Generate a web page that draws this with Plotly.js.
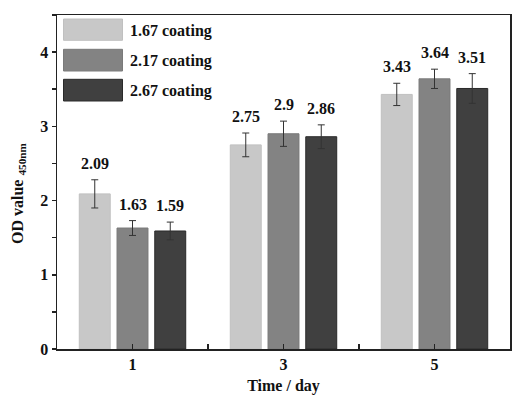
<!DOCTYPE html>
<html>
<head>
<meta charset="utf-8">
<script src="https://cdn.plot.ly/plotly-3.0.1.min.js"></script>
<style>
  html, body { margin: 0; padding: 0; background: #ffffff; }
  #chart { width: 524px; height: 402px; }
</style>
</head>
<body>
<div id="chart"></div>
<script>
// ---- data ----
const days = [1, 3, 5];
const seriesNames = ['1.67 coating', '2.17 coating', '2.67 coating'];
const od167 = [2.09, 2.75, 3.43];
const od217 = [1.63, 2.90, 3.64];
const od267 = [1.59, 2.86, 3.51];
const err167 = [0.19, 0.16, 0.15];
const err217 = [0.10, 0.17, 0.13];
const err267 = [0.12, 0.16, 0.20];
const yTickVals = [0, 1, 2, 3, 4];
const xTitle = 'Time / day';
const yTitle = 'OD value <sub>450nm</sub>';

// ---- styling ----
const colors = ['#c8c8c8', '#838383', '#404040'];
const edgeColors = ['#c0c0c0', '#7a7a7a', '#2a2a2a'];
const FONT = 'Liberation Serif, Times New Roman, serif';
const txtFont = { family: FONT, size: 16, color: '#111111', weight: 'bold' };

const seriesVals = [od167, od217, od267];
const seriesErr = [err167, err217, err267];

const W = 524, H = 402;
const M = { l: 57, r: 14, t: 15, b: 53 };
const plotW = W - M.l - M.r, plotH = H - M.t - M.b;
const px2x = px => (px - M.l) / plotW;
const px2y = py => (H - M.b - py) / plotH;

const bargap = 0.25;
const daySpacing = days[1] - days[0];
const slot = daySpacing * (1 - bargap) / seriesNames.length;

const traces = seriesNames.map((name, i) => ({
  type: 'bar',
  name: name,
  x: days,
  y: seriesVals[i],
  marker: { color: colors[i], line: { color: edgeColors[i], width: 1 } },
  error_y: {
    type: 'data', array: seriesErr[i], visible: true,
    color: '#333333', thickness: 1, width: 3.5
  },
  showlegend: false,
  hoverinfo: 'skip'
}));

const annotations = [];
seriesNames.forEach((name, i) => {
  days.forEach((d, j) => {
    annotations.push({
      x: d + (i - (seriesNames.length - 1) / 2) * slot,
      y: seriesVals[i][j] + seriesErr[i][j],
      xref: 'x', yref: 'y',
      text: String(seriesVals[i][j]),
      showarrow: false,
      yanchor: 'bottom',
      yshift: 6,
      font: txtFont
    });
  });
});

// custom legend (large swatches)
const swTop = [19, 49.3, 79.3], swBot = [40.3, 71, 101];
const shapes = [];
seriesNames.forEach((name, i) => {
  shapes.push({
    type: 'rect', xref: 'paper', yref: 'paper',
    x0: px2x(63.5), x1: px2x(122.5),
    y0: px2y(swBot[i]), y1: px2y(swTop[i]),
    fillcolor: colors[i],
    line: { color: edgeColors[i], width: 1 }
  });
  annotations.push({
    xref: 'paper', yref: 'paper',
    x: px2x(128), y: px2y((swTop[i] + swBot[i]) / 2 + 1),
    xanchor: 'left', yanchor: 'middle',
    text: name, showarrow: false,
    font: txtFont
  });
});

// y-axis title as rotated annotation
annotations.push({
  xref: 'paper', yref: 'paper',
  x: px2x(18), y: px2y(194),
  xanchor: 'center', yanchor: 'middle',
  textangle: -90,
  text: yTitle, showarrow: false,
  font: txtFont
});

const layout = {
  width: W, height: H,
  margin: { l: M.l, r: M.r, t: M.t, b: M.b, pad: 0 },
  paper_bgcolor: '#ffffff',
  plot_bgcolor: '#ffffff',
  barmode: 'group',
  bargap: bargap,
  bargroupgap: 0.18,
  showlegend: false,
  font: txtFont,
  xaxis: {
    range: [0, 6],
    tickmode: 'array',
    tickvals: days,
    ticktext: days.map(String),
    ticks: 'inside', ticklen: 5, tickwidth: 1.5, tickcolor: '#222222',
    minor: { tickmode: 'linear', tick0: 0, dtick: 1, ticks: 'inside', ticklen: 5, tickwidth: 1.5, tickcolor: '#222222' },
    showline: true, linecolor: '#222222', linewidth: 1.5, mirror: true,
    showgrid: false, zeroline: false,
    tickfont: txtFont,
    title: { text: xTitle, standoff: 8, font: txtFont }
  },
  yaxis: {
    range: [0, 4.5],
    tickmode: 'array',
    tickvals: yTickVals,
    ticks: 'outside', ticklen: 4, tickwidth: 1.5, tickcolor: '#222222',
    minor: { tickmode: 'linear', tick0: 0, dtick: 0.5, ticks: 'outside', ticklen: 4, tickwidth: 1.5, tickcolor: '#222222' },
    showline: true, linecolor: '#222222', linewidth: 1.5, mirror: true,
    showgrid: false, zeroline: false,
    tickfont: txtFont
  },
  annotations: annotations,
  shapes: shapes
};

Plotly.newPlot('chart', traces, layout, { staticPlot: true, displayModeBar: false });
</script>
</body>
</html>
